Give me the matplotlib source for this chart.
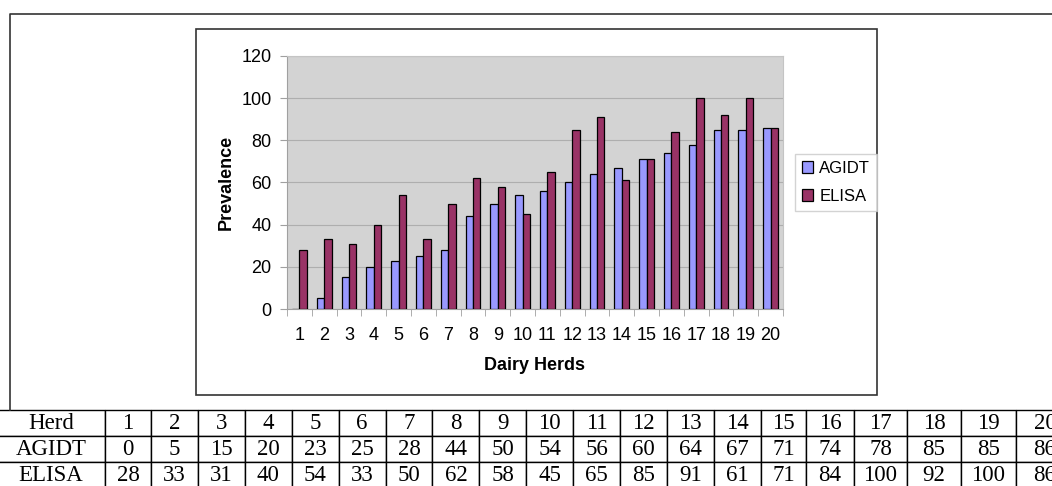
import numpy as np
import matplotlib
matplotlib.use('Agg')
import matplotlib.pyplot as plt
from matplotlib.patches import Rectangle

# Datos del gráfico / tabla
herds = [str(i) for i in range(1, 21)]
agidt = [0, 5, 15, 20, 23, 25, 28, 44, 50, 54, 56, 60, 64, 67, 71, 74, 78, 85, 85, 86]
elisa = [28, 33, 31, 40, 54, 33, 50, 62, 58, 45, 65, 85, 91, 61, 71, 84, 100, 92, 100, 86]
y_ticks = [0, 20, 40, 60, 80, 100, 120]

W, H = 1052, 486
color_agidt = '#9999FF'
color_elisa = '#993366'

fig = plt.figure(figsize=(W / 100, H / 100), dpi=100)

# Capa de fondo en pixeles para marcos y tabla
bg = fig.add_axes([0, 0, 1, 1])
bg.set_xlim(0, W)
bg.set_ylim(H, 0)
bg.axis('off')

# Marco exterior (abierto a la derecha)
bg.plot([10, 10, W + 5], [410, 14, 14], color='#333333', lw=1.2)
# Marco del gráfico
bg.add_patch(Rectangle((196, 29), 681, 366, fill=False, edgecolor='#333333', lw=1.2))

# Tabla inferior
bordes = [-3, 105] + list(np.linspace(151, 714, 13)) + [761, 806, 854, 907, 961, 1016, 1074]
anchos = np.diff(bordes)
total = bordes[-1] - bordes[0]
filas = [['Herd'] + herds,
         ['AGIDT'] + [str(v) for v in agidt],
         ['ELISA'] + [str(v) for v in elisa]]
tabla = bg.table(cellText=filas, cellLoc='center',
                 colWidths=list(anchos / total),
                 bbox=[bordes[0] / W, 1 - 488 / H, total / W, 78 / H])
tabla.auto_set_font_size(False)
tabla.set_fontsize(16.5)
for (i, j), cell in tabla.get_celld().items():
    cell.set_edgecolor('black')
    cell.set_linewidth(1.0)
    cell.set_text_props(family='Liberation Serif')

# Gráfico de barras
ax = fig.add_axes([287 / W, 1 - 309 / H, 496 / W, 253 / H])
ax.set_facecolor('#D3D3D3')
x = np.arange(1, 21)
w = 0.3
ax.bar(x - w / 2, agidt, w, color=color_agidt, edgecolor='black', lw=0.9, label='AGIDT', zorder=3)
ax.bar(x + w / 2, elisa, w, color=color_elisa, edgecolor='black', lw=0.9, label='ELISA', zorder=3)

ax.set_xlim(0.5, 20.5)
ax.set_ylim(0, 120)
ax.set_yticks(y_ticks)
ax.set_yticklabels([str(t) for t in y_ticks], family='Liberation Sans', fontsize=13)
ax.yaxis.grid(True, color='#AEAEAE', lw=0.8, zorder=0)
ax.set_axisbelow(True)

ax.set_xticks(x)
ax.set_xticklabels(herds, family='Liberation Sans', fontsize=13)
ax.set_xticks(np.arange(0.5, 21, 1), minor=True)
ax.tick_params(axis='x', which='major', length=0, pad=13)
ax.tick_params(axis='x', which='minor', length=5, color='#A0A0A0', direction='out')
ax.tick_params(axis='y', length=5, color='#A0A0A0', pad=6)

for lado in ['left', 'bottom']:
    ax.spines[lado].set_color('#A0A0A0')
for lado in ['top', 'right']:
    ax.spines[lado].set_color('#C4C4C4')

ax.set_ylabel('Prevalence', family='Liberation Sans', fontsize=13, weight='bold')
ax.yaxis.set_label_coords(-0.105, 0.5)
ax.set_xlabel('Dairy Herds', family='Liberation Sans', fontsize=13, weight='bold')
ax.xaxis.set_label_coords(0.5, -0.19)

# Leyenda a la derecha del área de trazado
leg = ax.legend(loc='upper left', bbox_to_anchor=(795 / W, 1 - 154 / H),
                bbox_transform=fig.transFigure,
                prop={'family': 'Liberation Sans', 'size': 12},
                handlelength=0.7, handleheight=0.7, handletextpad=0.35,
                borderpad=0.4, labelspacing=0.8, fancybox=False,
                borderaxespad=0)
leg.get_frame().set_edgecolor('#C8C8C8')
leg.get_frame().set_linewidth(1.0)

plt.savefig('out.png', dpi=100)
plt.close()
